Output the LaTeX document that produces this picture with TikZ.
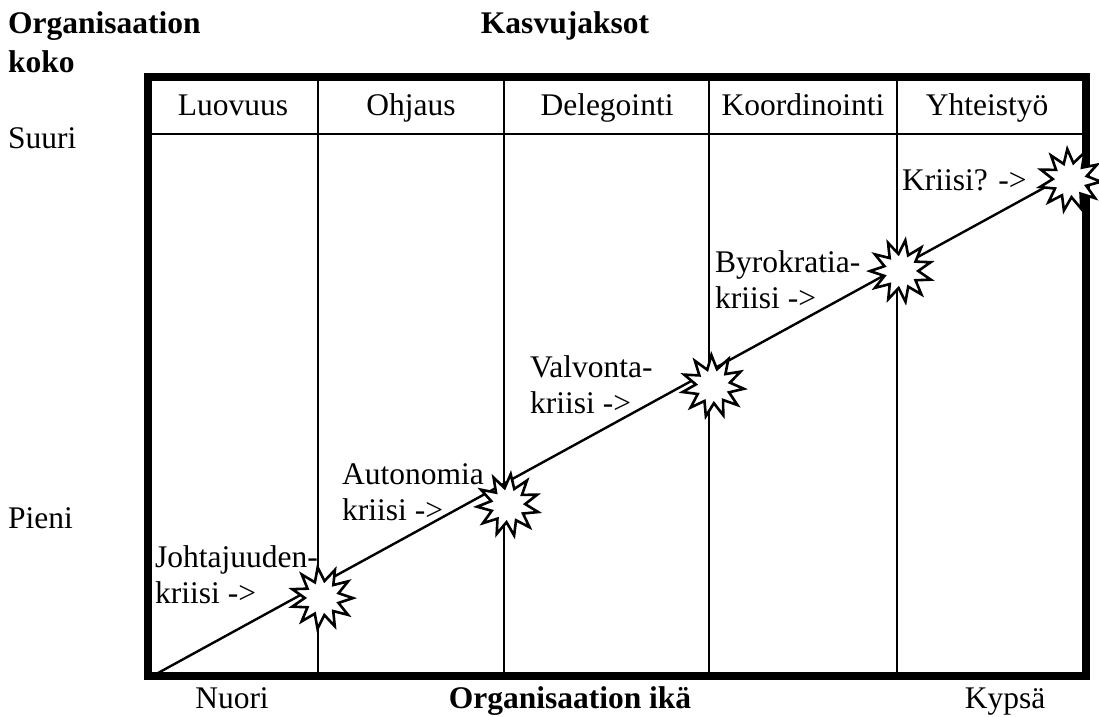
\documentclass[tikz,border=0pt]{standalone}
\usepackage{fontspec}
\setmainfont{Liberation Serif}
\usetikzlibrary{shapes.geometric}
\begin{document}
\begin{tikzpicture}[x=1pt,y=-1pt,
  txt/.style={font=\fontsize{31.5}{36}\selectfont, inner sep=0pt, align=left},
  btxt/.style={font=\fontsize{31.5}{36}\selectfont\bfseries, inner sep=0pt},
  thin/.style={line width=2.4pt},
  frame/.style={line width=8pt},
  burst/.style={star, star points=11, star point ratio=1.8, minimum size=62pt,
    inner sep=0pt, draw, fill=white, line width=2.6pt}]
\useasboundingbox (0,0) rectangle (1099,716);
% frame and grid
\draw[frame] (148,77) rectangle (1086,676);
\draw[thin] (152,134) -- (1082,134);
\foreach \x in {318,504,709,897} \draw[thin] (\x,81) -- (\x,672);
% headers
\node[txt, anchor=base] (h1) at (233,115) {Luovuus};
\node[txt, anchor=base] (h2) at (411,115) {Ohjaus};
\node[txt, anchor=base] (h3) at (607,115) {Delegointi};
\node[txt, anchor=base] (h4) at (803,115) {Koordinointi};
\node[txt, anchor=base] (h5) at (987,115) {Yhteistyö};
% axis labels
\node[btxt, anchor=base west] (org1) at (8,33) {Organisaation};
\node[btxt, anchor=base west] (org2) at (8,72) {koko};
\node[btxt, anchor=base] (kasvu) at (565,33) {Kasvujaksot};
\node[txt, anchor=base west] (suuri) at (8,148) {Suuri};
\node[txt, anchor=base west] (pieni) at (8,528) {Pieni};
\node[txt, anchor=base] (nuori) at (232,708) {Nuori};
\node[btxt, anchor=base] (ika) at (570,708) {Organisaation ikä};
\node[txt, anchor=base] (kypsa) at (1005,708) {Kypsä};
% growth line
\coordinate (s0) at (158,673);
\coordinate (s6) at (1062,178);
\draw[thin] (s0) -- (s6);
% crises
\node[burst, rotate=8] (b1) at (322,598) {};
\node[burst, rotate=-5] (b2) at (508,505) {};
\node[burst, rotate=3] (b3) at (713,386) {};
\node[burst, rotate=-8] (b4) at (901,271) {};
\node[burst, rotate=5] (b5) at (1070,180) {};
\node[txt, anchor=north west] (k1) at (155,545) {Johtajuuden-\\kriisi ->};
\node[txt, anchor=north west] (k2) at (342,463) {Autonomia\\kriisi ->};
\node[txt, anchor=north west] (k3) at (530,355) {Valvonta-\\kriisi ->};
\node[txt, anchor=north west] (k4) at (715,250) {Byrokratia-\\kriisi ->};
\node[txt, anchor=base west] (k5) at (902,190) {Kriisi? ->};
\end{tikzpicture}
\end{document}
